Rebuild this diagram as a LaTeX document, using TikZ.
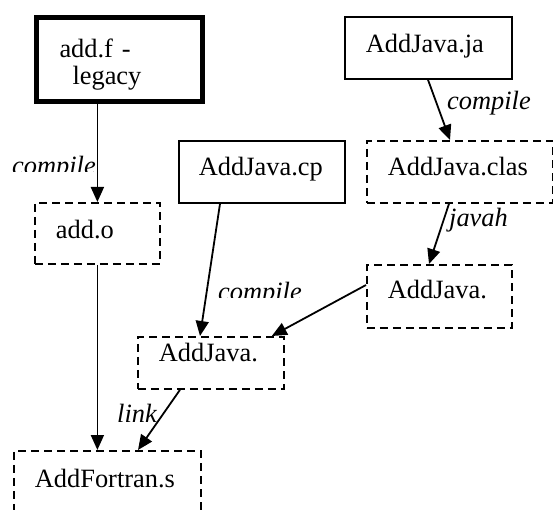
\documentclass[tikz,border=0pt]{standalone}
\usepackage{fontspec}
\setmainfont{Liberation Serif}
\usetikzlibrary{arrows.meta}

\begin{document}
\begin{tikzpicture}[x=1pt,y=-1pt,
  every node/.style={font=\fontsize{26.4}{27}\selectfont},
  box/.style n args={3}{anchor=north west, inner xsep=21pt, inner ysep=0pt, align=left,
    text width=#1, text height=#2, text depth=#3, line width=1.8pt},
  src/.style={draw},
  tmp/.style={draw, dash pattern=on 8pt off 5pt},
  flow/.style={-{Triangle[length=15pt,width=13pt]}, line width=1.8pt},
  act/.style={font=\fontsize{26.4}{27}\selectfont\itshape, anchor=base west, inner sep=0pt}]
\useasboundingbox (0,0) rectangle (553,510);
\clip (0,0) rectangle (553,510);
\node [box={120pt}{40pt}{44pt}, src, line width=5pt, inner xsep=23pt] (addf) at (34,15) {add.f -\\\hspace*{13pt}legacy};
\node [box={83pt}{36pt}{25pt}, tmp] (addo) at (34,202) {add.o};
\node [box={126pt}{35pt}{27pt}, src, inner xsep=20pt] (cp) at (178,140) {AddJava.cp};
\node [box={125pt}{36pt}{26pt}, src] (ja) at (344,16) {AddJava.ja};
\node [box={144pt}{35pt}{27pt}, tmp] (clas) at (366,140) {AddJava.clas};
\node [box={103pt}{34pt}{29pt}, tmp] (hdr) at (366,264) {AddJava.};
\node [box={104pt}{25pt}{27pt}, tmp] (jnic) at (137,336) {AddJava.};
\node [box={145pt}{37pt}{43pt}, tmp] (lib) at (13,450) {AddFortran.s};

\draw [flow] (addo.north |- addf.south) -- (addo.north);
\draw [flow] (addo.south) -- (addo.south |- lib.north);
\draw [flow] ([xshift=84pt]ja.south west) -- ([xshift=84pt]clas.north west);
\draw [flow] ([xshift=83pt]clas.south west) -- ([xshift=63pt]hdr.north west);
\draw [flow] ([yshift=-21pt]hdr.north west) -- ([xshift=-13pt]jnic.north east);
\draw [flow] ([xshift=42pt]cp.south west) -- ([xshift=63pt]jnic.north west);
\draw [flow] ([xshift=43pt]jnic.south west) -- ([xshift=125pt]lib.north west);

\begin{scope}
\clip (0,150) rectangle (110,172);
\node [act] (cmp1) at (12,175) {compile};
\end{scope}
\node [act] (cmp2) at (447,110) {compile};
\node [act] (jvh) at (449,227) {javah};
\begin{scope}
\clip (200,270) rectangle (320,297);
\node [act] (cmp3) at (218,300) {compile};
\end{scope}
\node [act] (lnk) at (117,422) {link};
\end{tikzpicture}
\end{document}
